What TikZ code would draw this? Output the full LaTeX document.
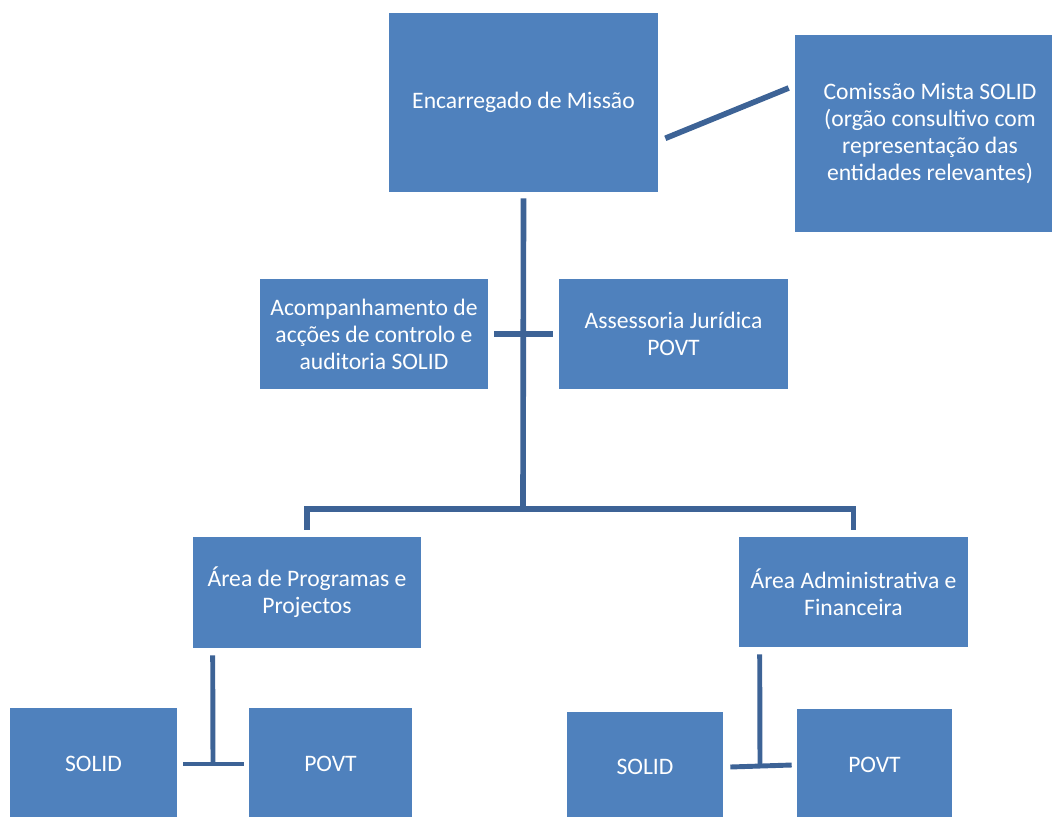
\documentclass[tikz,border=0pt]{standalone}
\usepackage{fontspec}
\setmainfont{Carlito}
\usetikzlibrary{calc, positioning}
\definecolor{boxBlue}{RGB}{79, 129, 189}
\definecolor{lineBlue}{RGB}{61, 99, 150}

\tikzset{
  unit/.style={rectangle, fill=boxBlue, text=white, align=center, inner sep=2pt,
    font=\fontsize{16.8}{19.2}\selectfont},
  link/.style={draw=lineBlue, line width=4pt},
}

\begin{document}
\begin{tikzpicture}[x=0.025cm, y=-0.025cm]
  \useasboundingbox (0,0) rectangle (1052,816);
  \clip (0,0) rectangle (1052,816);

  % top level
  \node[unit, minimum width=6.725cm, minimum height=4.475cm] (enc) at (523.5,102.5) {Encarregado de Missão};
  \node[unit, minimum width=6.75cm, minimum height=4.925cm] (com) at (930,133.5)
    {Comissão Mista SOLID\\(orgão consultivo com\\representação das\\entidades relevantes)};

  % staff units
  \node[unit, minimum width=5.7cm, minimum height=2.75cm] (aco) at (374,334)
    {Acompanhamento de\\acções de controlo e\\auditoria SOLID};
  \node[unit, minimum width=5.725cm, minimum height=2.75cm] (ass) at (673.5,334)
    {Assessoria Jurídica\\POVT};

  % areas
  \node[unit, minimum width=5.7cm, minimum height=2.775cm] (prog) at (307,592.5)
    {Área de Programas e\\Projectos};
  \node[unit, minimum width=5.725cm, minimum height=2.75cm] (adm) at (853.5,592)
    {Área Administrativa e\\Financeira};

  % programmes under each area
  \node[unit, minimum width=4.175cm, minimum height=2.8cm] (solA) at (93.5,764) {SOLID};
  \node[unit, minimum width=4.075cm, minimum height=2.8cm] (povA) at (330.5,764) {POVT};
  \node[unit, minimum width=3.9cm, minimum height=2.75cm] (solB) at (645,767) {SOLID};
  \node[unit, minimum width=3.875cm, minimum height=2.8cm] (povB) at (874.5,765) {POVT};

  % connectors
  \coordinate (bus) at (523,509);
  \coordinate (pjoin) at (213,764);
  \coordinate (ajoin) at (760,767);

  \draw[link] ($(enc.south east)+(7,-54)$) -- ($(com.west)+(-6,-45.5)$);
  \draw[link] ($(enc.south)+(0,6)$) -- (bus);
  \draw[link] ($(aco.east)+(6,0)$) -- ($(ass.west)+(-6,0)$);
  \draw[link] ($(prog.north)+(0,-7)$) |- (bus) -| ($(adm.north)+(0,-7)$);

  \draw[link, line width=3.5pt] ($(prog.south west)+(20,7)$) -- (pjoin);
  \draw[link, line width=3.5pt] ($(solA.east)+(6,0)$) -- ($(povA.west)+(-5,0)$);
  \draw[link, line width=3.5pt] ($(adm.south west)+(21,7)$) -- (ajoin);
  \draw[link, line width=3.5pt] ($(solB.east)+(7,0)$) -- ($(povB.west)+(-5,0)$);
\end{tikzpicture}
\end{document}
